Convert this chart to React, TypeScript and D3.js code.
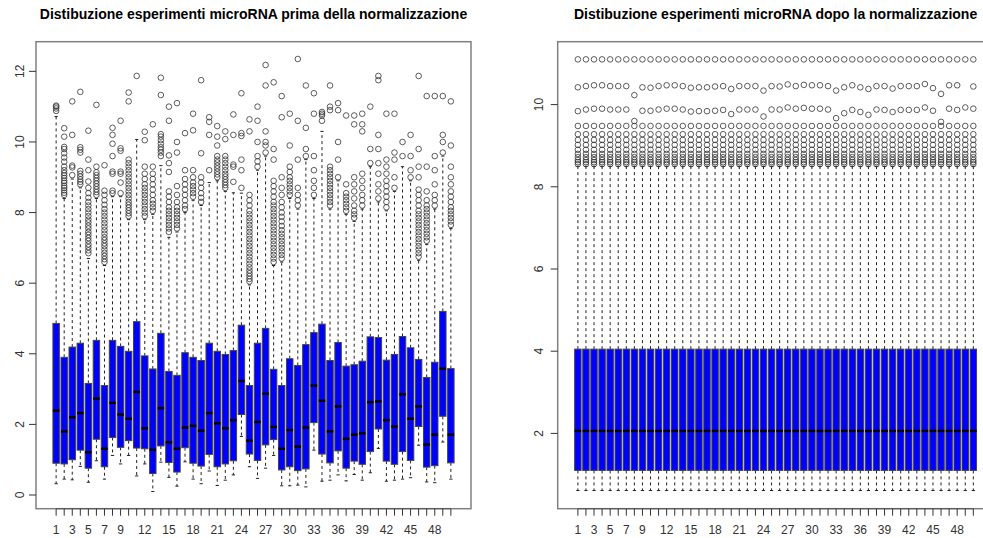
import { useEffect, useRef } from 'react'
import * as d3 from 'd3'

// ---- data ----
const samples = d3.range(1, 51)
const shownTicks = [1, 3, 5, 7, 9, 12, 15, 18, 21, 24, 27, 30, 33, 36, 39, 42, 45, 48]

const titleBefore = 'Distibuzione esperimenti microRNA prima della normalizzazione'
const titleAfter = 'Distibuzione esperimenti microRNA dopo la normalizzazione'

// before normalization: five-number summaries per sample
const rawLow = [0.32, 0.45, 0.43, 0.81, 0.36, 0.97, 0.45, 1.12, 0.88, 1.12,
  0.54, 0.88, 0.10, 0.93, 0.50, 0.25, 0.94, 0.45, 0.32, 0.68,
  0.27, 0.42, 0.57, 1.66, 0.80, 0.47, 0.76, 1.12, 0.26, 0.26,
  0.28, 0.23, 1.27, 0.39, 0.42, 0.57, 0.40, 0.58, 0.42, 0.63,
  1.32, 0.39, 0.42, 0.45, 0.49, 1.41, 0.37, 0.35, 1.50, 0.45]
const rawQ1 = [0.90, 0.88, 1.00, 1.27, 0.76, 1.58, 0.80, 1.63, 1.35, 1.54,
  1.33, 1.31, 0.61, 1.39, 0.92, 0.65, 1.34, 0.90, 0.82, 1.15,
  0.80, 0.88, 0.97, 2.28, 1.16, 0.98, 1.42, 1.57, 0.71, 0.80,
  0.69, 0.74, 2.05, 1.16, 0.91, 1.25, 0.76, 0.96, 0.87, 1.23,
  1.87, 0.96, 0.87, 1.23, 0.98, 1.94, 0.79, 0.83, 2.23, 0.91]
const rawMedian = [2.39, 1.80, 2.20, 2.32, 1.21, 2.73, 1.31, 2.61, 2.28, 2.16,
  2.92, 1.89, 1.28, 2.46, 1.49, 1.31, 1.91, 1.96, 1.82, 2.32,
  2.03, 1.89, 2.12, 3.23, 1.54, 2.07, 2.87, 1.93, 1.31, 1.84,
  1.37, 1.91, 3.10, 2.67, 1.80, 2.51, 1.59, 1.71, 1.75, 2.63,
  2.65, 2.12, 1.94, 2.85, 2.16, 2.51, 1.43, 1.71, 3.58, 1.71]
const rawQ3 = [4.86, 3.90, 4.19, 4.30, 3.16, 4.38, 3.10, 4.38, 4.21, 4.07,
  4.91, 3.94, 3.57, 4.58, 3.50, 3.39, 4.03, 3.90, 3.81, 4.30,
  4.07, 3.98, 4.09, 4.81, 3.10, 4.30, 4.72, 3.56, 3.10, 3.86,
  3.67, 4.26, 4.60, 4.84, 3.81, 4.32, 3.65, 3.69, 3.79, 4.48,
  4.46, 3.82, 3.98, 4.49, 4.17, 3.84, 3.33, 3.76, 5.20, 3.58]
const rawHigh = [10.72, 8.40, 8.95, 8.70, 6.70, 8.40, 6.50, 8.45, 8.45, 7.80,
  10.07, 7.80, 7.95, 9.33, 7.30, 7.45, 8.00, 8.35, 8.20, 8.85,
  8.90, 8.60, 8.56, 8.55, 5.95, 9.20, 9.60, 6.50, 6.60, 8.40,
  8.10, 9.50, 8.40, 10.30, 8.10, 8.90, 7.95, 7.75, 8.10, 9.30,
  8.30, 8.05, 8.60, 9.30, 8.90, 6.65, 7.10, 8.10, 9.60, 7.55]
const rawOutliers = [
  [10.88, 10.95, 11.0, 11.03],
  [8.5, 8.56, 8.63, 8.7, 8.76, 8.84, 8.9, 8.98, 9.05, 9.12, 9.2, 9.3, 9.44, 9.56, 9.68, 9.8, 9.86, 10.15, 10.39],
  [9.06, 9.28, 9.33, 10.2, 11.15],
  [8.8, 8.87, 8.94, 9.02, 9.1, 9.18, 9.7, 9.78, 9.85, 11.42],
  [6.85, 6.93, 7.02, 7.1, 7.2, 7.28, 7.37, 7.45, 7.55, 7.63, 7.72, 7.8, 7.9, 8.0, 8.1, 8.2, 8.3, 8.42, 8.55, 8.7, 8.88, 9.2, 9.5, 10.32],
  [8.5, 8.58, 8.66, 8.74, 8.82, 8.9, 8.98, 9.06, 9.14, 9.3, 11.05],
  [6.6, 6.68, 6.77, 6.86, 6.95, 7.05, 7.13, 7.22, 7.3, 7.4, 7.5, 7.6, 7.7, 7.8, 7.9, 8.0, 8.1, 8.22, 8.35, 8.5, 8.62, 9.34],
  [8.55, 8.62, 9.1, 9.16, 9.6, 9.95, 10.2, 10.4],
  [8.55, 8.85, 9.1, 9.16, 9.75, 9.82, 10.6],
  [7.9, 7.98, 8.06, 8.14, 8.22, 8.3, 8.4, 8.5, 8.6, 8.7, 8.8, 8.9, 9.0, 9.1, 9.2, 9.3, 9.4, 9.5, 11.15, 11.4],
  [11.87],
  [7.9, 8.0, 8.1, 8.2, 8.3, 8.4, 8.5, 8.6, 8.7, 8.8, 8.95, 9.1, 9.3, 10.05, 10.29],
  [8.05, 8.15, 8.25, 8.35, 8.5, 8.65, 8.8, 8.95, 9.1, 9.3, 10.5],
  [9.6, 9.7, 9.78, 9.85, 9.95, 10.05, 10.15, 10.22, 11.33, 11.82],
  [7.45, 7.55, 7.65, 7.75, 7.85, 7.95, 8.05, 8.15, 8.3, 8.45, 8.6, 9.15, 9.4, 9.62, 10.6, 11.0],
  [7.55, 7.65, 7.75, 7.85, 7.95, 8.05, 8.15, 8.3, 8.5, 8.75, 9.7, 10.0, 11.1],
  [8.1, 8.2, 8.35, 8.5, 8.65, 8.8, 8.95, 9.2, 10.25],
  [8.45, 8.55, 8.65, 8.75, 8.85, 9.0, 9.2, 10.33, 10.8],
  [8.3, 8.42, 8.55, 8.7, 8.85, 9.0, 9.68, 11.75],
  [9.2, 10.2, 10.57, 10.7],
  [9.0, 9.08, 9.16, 9.25, 9.33, 9.42, 9.5, 9.6, 9.9, 10.15, 10.45],
  [8.7, 8.78, 8.86, 8.94, 9.02, 9.1, 9.2, 9.3, 9.4, 9.5, 9.6, 10.08, 10.3],
  [8.87, 9.3, 9.36, 10.2, 10.78],
  [8.7, 9.2, 9.5, 10.17, 10.25, 11.38],
  [6.05, 6.12, 6.2, 6.28, 6.36, 6.45, 6.55, 6.65, 6.75, 6.85, 6.95, 7.05, 7.15, 7.25, 7.35, 7.45, 7.55, 7.65, 7.75, 7.85, 7.95, 8.05, 8.2, 8.35, 8.5, 10.3, 10.64],
  [9.3, 9.45, 9.6, 10.0, 10.6, 11.0],
  [9.7, 9.9, 10.0, 10.3, 11.6, 12.18],
  [6.6, 6.7, 6.8, 6.9, 7.0, 7.1, 7.2, 7.3, 7.4, 7.5, 7.6, 7.7, 7.8, 7.9, 8.0, 8.1, 8.2, 8.3, 8.45, 8.6, 8.75, 8.9, 9.5, 9.8, 11.69],
  [6.7, 6.8, 6.9, 7.0, 7.1, 7.2, 7.3, 7.4, 7.5, 7.62, 7.75, 7.88, 8.0, 8.15, 8.3, 8.5, 8.7, 9.0, 10.7, 11.3],
  [8.5, 8.6, 8.7, 8.8, 8.9, 9.0, 9.15, 9.3, 9.9, 10.8],
  [8.2, 8.35, 8.5, 8.7, 9.5, 10.6, 12.35],
  [9.6, 9.8, 10.4, 11.6],
  [8.5, 8.7, 8.9, 9.2, 9.6, 10.8, 11.38],
  [10.6, 10.75, 10.8, 10.85],
  [8.2, 8.3, 8.4, 8.5, 8.6, 8.7, 8.8, 8.9, 9.0, 9.1, 9.2, 9.3, 10.9, 11.0, 11.6],
  [9.0, 9.5, 10.0, 10.9, 11.1],
  [8.05, 8.15, 8.25, 8.35, 8.45, 8.55, 8.8, 10.75],
  [7.85, 7.95, 8.05, 8.2, 8.4, 8.6, 8.8, 9.0, 10.5, 10.75],
  [8.2, 8.35, 8.5, 8.7, 8.9, 9.1, 10.3, 10.5, 10.8],
  [9.4, 9.8, 11.0],
  [8.4, 8.6, 8.8, 9.1, 9.4, 9.8, 10.2, 11.75, 11.87],
  [8.15, 8.3, 8.45, 8.6, 8.75, 8.9, 9.1, 9.3, 9.5, 10.8],
  [8.7, 9.0, 9.5, 9.7, 10.8],
  [9.6, 10.0],
  [9.0, 9.2, 9.6, 10.2],
  [6.75, 6.85, 6.95, 7.05, 7.15, 7.25, 7.35, 7.45, 7.55, 7.65, 7.75, 7.85, 7.95, 8.05, 8.2, 8.35, 8.5, 8.65, 9.0, 9.3, 9.8, 11.87],
  [7.2, 7.3, 7.4, 7.5, 7.6, 7.7, 7.8, 7.9, 8.0, 8.1, 8.2, 8.35, 8.6, 9.3, 11.3],
  [8.2, 8.35, 8.5, 8.8, 9.2, 9.6, 11.3],
  [9.7, 10.0, 10.2, 11.3],
  [7.65, 7.75, 7.85, 7.95, 8.05, 8.15, 8.3, 8.45, 8.6, 8.8, 9.0, 9.3, 9.9, 11.15]
]

// after normalization: every sample shares the same summary
const normLow = 0.61
const normQ1 = 1.10
const normMedian = 2.06
const normQ3 = 4.05
const normHigh = 8.5
const normTop = 11.1
const normRow2 = [10.42, 10.45, 10.47, 10.47, 10.45, 10.45, 10.45, 10.23, 10.42, 10.41,
  10.45, 10.47, 10.47, 10.45, 10.41, 10.42, 10.42, 10.44, 10.45, 10.38,
  10.45, 10.45, 10.45, 10.34, 10.45, 10.44, 10.49, 10.45, 10.48, 10.47,
  10.47, 10.45, 10.34, 10.42, 10.47, 10.42, 10.38, 10.45, 10.45, 10.39,
  10.45, 10.45, 10.45, 10.50, 10.40, 10.26, 10.47, 10.47, null, 10.44]
const normRow3 = [9.84, 9.88, 9.90, 9.90, 9.88, 9.88, 9.88, 9.60, 9.85, 9.85,
  9.88, 9.90, 9.90, 9.88, 9.83, 9.84, 9.84, 9.85, 9.87, 9.77,
  9.88, 9.88, 9.88, 9.71, 9.88, 9.88, 9.93, 9.90, 9.92, 9.90,
  9.90, 9.88, 9.67, 9.79, 9.87, 9.82, 9.75, 9.88, 9.87, 9.82,
  9.87, 9.87, 9.87, 9.93, 9.85, 9.58, 9.90, 9.87, 9.93, 9.90]
const normLowerRows = [9.48, 9.28, 9.14, 9.02, 8.9, 8.8, 8.72, 8.65, 8.6, 8.55]

const FONT = '"Liberation Sans", Arial, Helvetica, sans-serif'

const drawPanel = (svg, opts) => {
  const { left, right, top, bottom, yDomain, yTicks, boxes, title, labelX } = opts
  const x = d3.scaleLinear().domain([-1.5, 52.5]).range([left, right])
  const y = d3.scaleLinear().domain(yDomain).range([bottom, top])
  const bw = 0.8 * (x(1) - x(0))
  const sw = bw / 2

  const g = svg.append('g')

  // whiskers (dashed)
  g.selectAll('.whisk-hi').data(boxes).enter().append('line')
    .attr('x1', d => x(d.i)).attr('x2', d => x(d.i))
    .attr('y1', d => y(d.q3)).attr('y2', d => y(d.high))
    .attr('stroke', '#222').attr('stroke-width', 1).attr('stroke-dasharray', '3,3')
  g.selectAll('.whisk-lo').data(boxes).enter().append('line')
    .attr('x1', d => x(d.i)).attr('x2', d => x(d.i))
    .attr('y1', d => y(d.q1)).attr('y2', d => y(d.low))
    .attr('stroke', '#222').attr('stroke-width', 1).attr('stroke-dasharray', '3,3')

  // staples
  ;['high', 'low'].forEach(k => {
    g.selectAll('.staple-' + k).data(boxes).enter().append('line')
      .attr('x1', d => x(d.i) - sw / 2).attr('x2', d => x(d.i) + sw / 2)
      .attr('y1', d => y(d[k])).attr('y2', d => y(d[k]))
      .attr('stroke', '#222').attr('stroke-width', 1)
  })

  // boxes
  g.selectAll('.box').data(boxes).enter().append('rect')
    .attr('x', d => x(d.i) - bw / 2)
    .attr('width', bw)
    .attr('y', d => y(d.q3))
    .attr('height', d => y(d.q1) - y(d.q3))
    .attr('fill', '#0000ff')
    .attr('stroke', '#444')
    .attr('stroke-width', 1)

  // medians
  g.selectAll('.med').data(boxes).enter().append('line')
    .attr('x1', d => x(d.i) - bw / 2).attr('x2', d => x(d.i) + bw / 2)
    .attr('y1', d => y(d.median)).attr('y2', d => y(d.median))
    .attr('stroke', '#000').attr('stroke-width', 2.5)

  // outliers
  const pts = boxes.flatMap(d => d.out.map(v => ({ i: d.i, v })))
  g.selectAll('.out').data(pts).enter().append('circle')
    .attr('cx', d => x(d.i)).attr('cy', d => y(d.v))
    .attr('r', 2.8)
    .attr('fill', 'none')
    .attr('stroke', '#333')
    .attr('stroke-width', 0.8)

  // frame
  svg.append('rect')
    .attr('x', left).attr('y', top)
    .attr('width', right - left).attr('height', bottom - top)
    .attr('fill', 'none').attr('stroke', '#808080').attr('stroke-width', 1.5)

  // x axis
  const xa = svg.append('g')
  xa.append('line')
    .attr('x1', x(1)).attr('x2', x(50)).attr('y1', bottom).attr('y2', bottom)
    .attr('stroke', '#555')
  xa.selectAll('.xt').data(samples).enter().append('line')
    .attr('x1', d => x(d)).attr('x2', d => x(d))
    .attr('y1', bottom).attr('y2', bottom + 7)
    .attr('stroke', '#333')
  xa.selectAll('.xl').data(shownTicks).enter().append('text')
    .attr('x', d => x(d)).attr('y', bottom + 25)
    .attr('text-anchor', 'middle')
    .style('font-family', FONT).style('font-size', '12px').style('fill', '#333')
    .text(d => d)

  // y axis
  const ya = svg.append('g')
  ya.selectAll('.yt').data(yTicks).enter().append('line')
    .attr('x1', left - 7).attr('x2', left)
    .attr('y1', d => y(d)).attr('y2', d => y(d))
    .attr('stroke', '#333')
  ya.selectAll('.yl').data(yTicks).enter().append('text')
    .attr('transform', d => `translate(${labelX},${y(d)}) rotate(-90)`)
    .attr('text-anchor', 'middle')
    .style('font-family', FONT).style('font-size', '12px').style('fill', '#333')
    .text(d => d)

  // title
  svg.append('text')
    .attr('x', (left + right) / 2).attr('y', 19)
    .attr('text-anchor', 'middle')
    .style('font-family', FONT).style('font-size', '14px').style('font-weight', 'bold')
    .style('fill', '#000')
    .text(title)
}

const App = () => {
  const svgRef = useRef(null)

  useEffect(() => {
    const svg = d3.select(svgRef.current)
    svg.selectAll('*').remove()

    const rawBoxes = samples.map((s, k) => ({
      i: s, low: rawLow[k], q1: rawQ1[k], median: rawMedian[k], q3: rawQ3[k], high: rawHigh[k], out: rawOutliers[k]
    }))
    const normBoxes = samples.map((s, k) => ({
      i: s, low: normLow, q1: normQ1, median: normMedian, q3: normQ3, high: normHigh,
      out: [normTop, normRow2[k], normRow3[k], ...normLowerRows].filter(v => v != null)
    }))

    drawPanel(svg, {
      left: 36, right: 471, top: 41.7, bottom: 508.7,
      yDomain: [-0.388, 12.84], yTicks: [0, 2, 4, 6, 8, 10, 12],
      boxes: rawBoxes, title: titleBefore, labelX: 24
    })
    drawPanel(svg, {
      left: 557.7, right: 993.5, top: 41.7, bottom: 508.7,
      yDomain: [0.168, 11.53], yTicks: [2, 4, 6, 8, 10],
      boxes: normBoxes, title: titleAfter, labelX: 542.5
    })
  }, [])

  return (
    <div>
      <style>{'body{margin:0;background:#fff}'}</style>
      <svg ref={svgRef} width={983} height={538} style={{ display: 'block', background: '#fff' }}></svg>
    </div>
  )
}

export default App
